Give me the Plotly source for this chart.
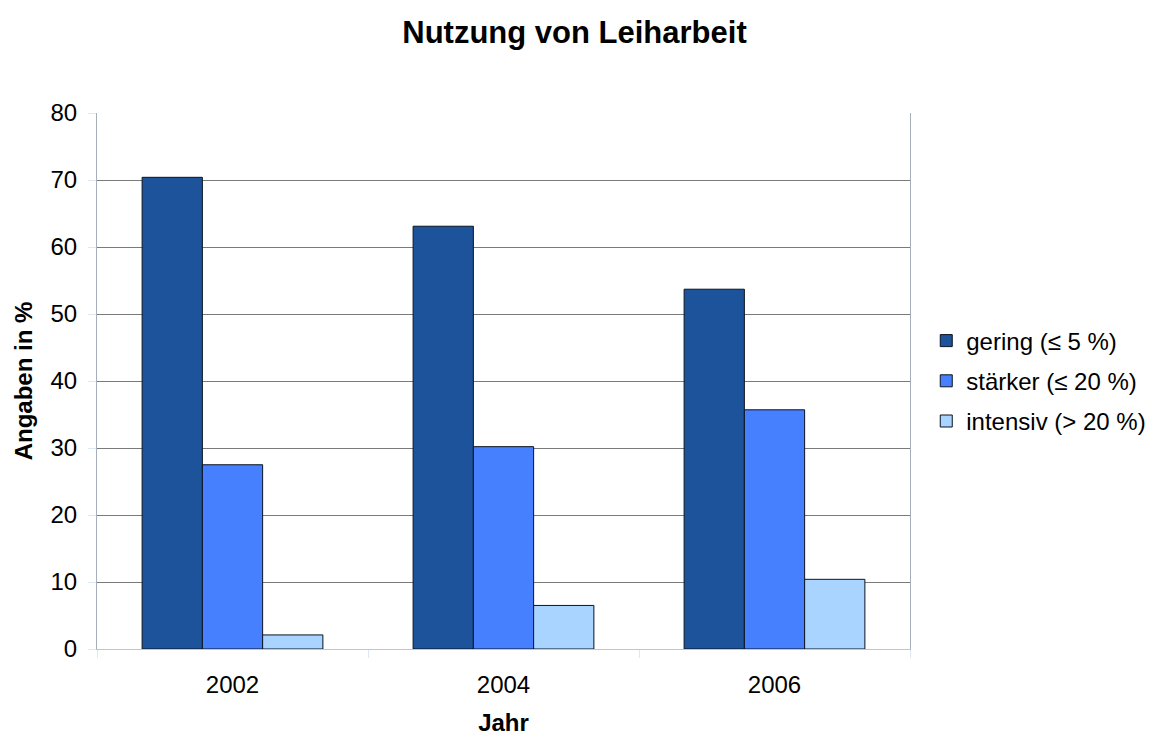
import plotly.graph_objects as go

years = ["2002", "2004", "2006"]
series_names = ["gering (≤ 5 %)", "stärker (≤ 20 %)", "intensiv (> 20 %)"]
gering = [70.4, 63.1, 53.7]
staerker = [27.5, 30.2, 35.7]
intensiv = [2.1, 6.5, 10.4]
colors = ["#1C539B", "#4680FF", "#A8D4FF"]
y_ticks = [0, 10, 20, 30, 40, 50, 60, 70, 80]

fig = go.Figure()
for i, (name, vals, col) in enumerate(zip(series_names, [gering, staerker, intensiv], colors)):
    fig.add_trace(go.Bar(
        x=years, y=vals, name=name, legendgroup=f"g{i}",
        marker=dict(color=col, line=dict(color="#0a1420", width=1)),
    ))

W = 1180
fig.update_layout(
    width=W, height=738,
    paper_bgcolor="white", plot_bgcolor="white",
    margin=dict(l=89, r=W - 89 - 813, t=105, b=97),
    barmode="group", bargap=0.333, bargroupgap=0,
    font=dict(family="Liberation Sans, Arial, sans-serif", color="black", size=24),
    title=dict(text="<b>Nutzung von Leiharbeit</b>", x=566.5 / W, xanchor="center",
               y=1 - 24 / 738, yanchor="middle", font=dict(size=31)),
    legend=dict(x=1.02, xanchor="left", y=0.5, yanchor="middle",
                font=dict(size=24), tracegroupgap=6, itemwidth=30,
                bgcolor="rgba(0,0,0,0)"),
    showlegend=True,
)
fig.update_xaxes(
    automargin=False,
    showline=True, linecolor="#B8C8DA", linewidth=1, mirror=False,
    ticks="outside", tickson="boundaries", ticklen=8, tickcolor="#DDE8F4",
    tickfont=dict(size=24), ticklabelstandoff=14,
    title=dict(text="<b>Jahr</b>", font=dict(size=24), standoff=17),
)
fig.update_yaxes(
    automargin=False,
    range=[0, 80], tickvals=y_ticks,
    showgrid=True, gridcolor="#7A7A7A", gridwidth=1,
    showline=True, linecolor="#A6AEB8", linewidth=1, mirror=True,
    ticks="outside", ticklen=8, tickcolor="#DDE8F4",
    tickfont=dict(size=24), ticklabelstandoff=6,
    title=dict(text="<b>Angaben in %</b>", font=dict(size=24), standoff=11),
    zeroline=False,
)
fig.write_html("out.html")
